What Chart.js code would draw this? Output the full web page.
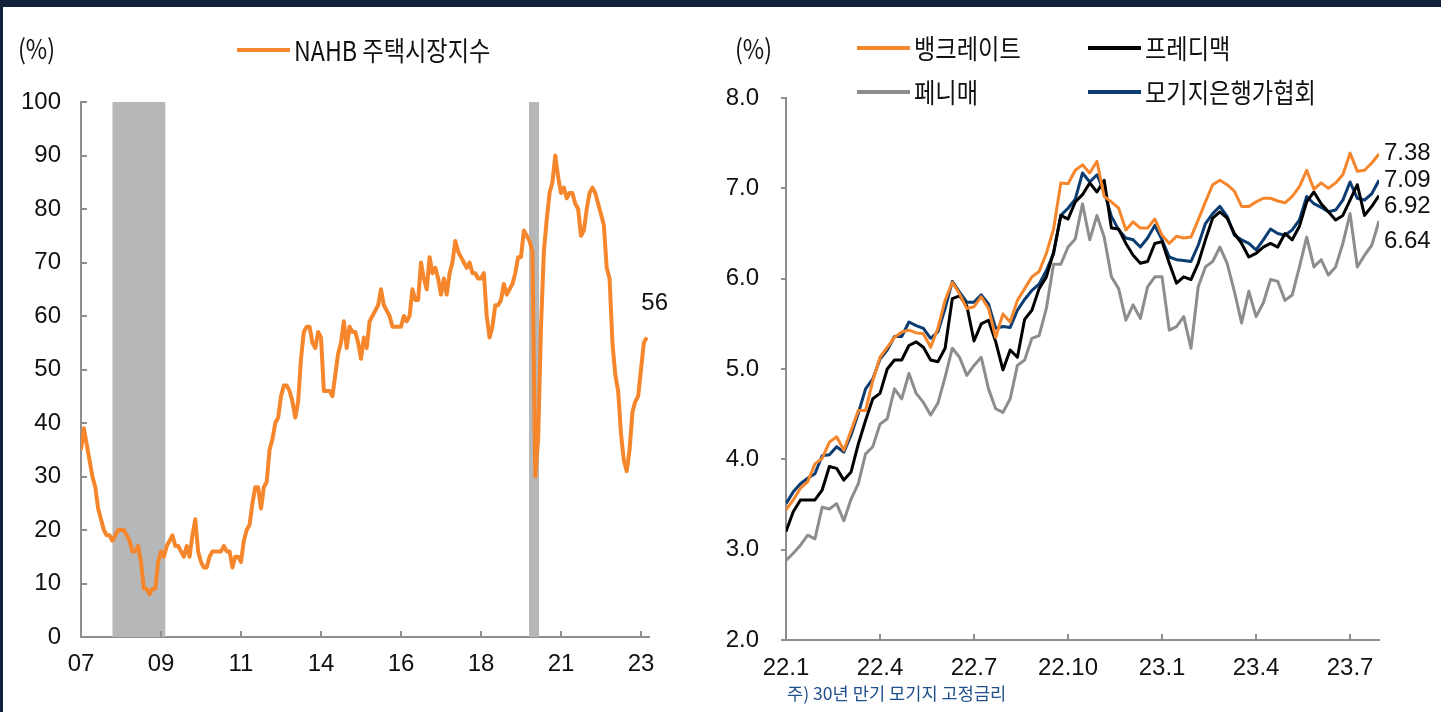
<!DOCTYPE html>
<html><head><meta charset="utf-8">
<script src="https://cdn.jsdelivr.net/npm/chart.js@4.4.0/dist/chart.umd.min.js"></script>
<style>
html,body{margin:0;padding:0;background:#fff;}
body{width:1441px;height:712px;position:relative;overflow:hidden;font-family:"Noto Sans CJK KR","Noto Sans",sans-serif;}
#topband{position:absolute;left:0;top:0;width:1441px;height:7px;background:#13203a;}
#leftband{position:absolute;left:0;top:0;width:3px;height:712px;background:#13203a;}
canvas{position:absolute;top:0;}
#c1{left:0;}
#c2{left:720px;}
.t{position:absolute;white-space:nowrap;color:#111;line-height:30px;height:30px;transform-origin:0 50%;}
.ln{position:absolute;height:4px;}
#note{position:absolute;left:787px;top:682px;font-size:17.6px;line-height:22px;color:#1f4f8c;white-space:nowrap;}
</style></head>
<body>
<div id="topband"></div><div id="leftband"></div>
<canvas id="c1" width="720" height="712"></canvas>
<canvas id="c2" width="721" height="712"></canvas>
<div id="note">주) 30년 만기 모기지 고정금리</div>
<script>
// ---------- Left chart data: NAHB housing market index, monthly 2007.01 - 2023.07 ----------
const nahbName = 'NAHB 주택시장지수';
const nahb = [
 35,39,36,33,30,28,24,22,20,19,19,18,
 19,20,20,20,19,18,16,16,17,14,9,9,
 8,9,9,14,16,15,17,18,19,17,17,16,
 15,17,15,19,22,16,14,13,13,15,16,16,
 16,16,17,16,16,13,15,15,14,18,20,21,
 25,28,28,24,28,29,35,37,40,41,45,47,
 47,46,44,41,44,52,57,58,58,55,54,57,
 56,46,46,46,45,49,53,55,59,54,58,57,
 57,55,52,56,54,59,60,61,62,65,62,61,
 60,58,58,58,58,60,59,60,65,63,63,70,
 67,65,71,68,69,67,64,67,64,68,70,74,
 72,71,70,69,70,68,68,67,67,68,60,56,
 58,62,62,63,66,64,65,66,68,71,71,76,
 75,74,72,30,37,58,72,78,83,85,90,86,
 83,84,82,83,83,81,80,75,76,80,83,84,
 83,81,79,77,69,67,55,49,46,38,33,31,
 35,42,44,45,50,55,56];
const nahbTickIdx = [0,28,56,84,112,140,168,196];
const nahbTickLabels = ['07','09','11','14','16','18','21','23'];
const recessions = [[11,29.5],[156.8,160.3]]; // month index ranges (2007.12-2009.06, 2020.02-2020.04)

// ---------- Right chart data: 30y fixed mortgage rates, weekly 2022.01 - 2023.08 ----------
const rateNames = ['뱅크레이트','프레디맥','페니매','모기지은행가협회'];
const bankrate = [3.44,3.55,3.68,3.75,3.95,4.01,4.19,4.25,4.10,4.32,4.54,4.54,4.87,5.13,5.24,5.35,5.41,5.43,5.40,5.39,
 5.24,5.45,5.76,5.96,5.83,5.67,5.69,5.80,5.67,5.35,5.61,5.52,5.76,5.89,6.02,6.08,6.28,6.55,7.06,7.05,
 7.20,7.26,7.17,7.30,6.91,6.85,6.78,6.54,6.63,6.56,6.56,6.66,6.48,6.39,6.47,6.45,6.46,6.65,6.85,7.04,
 7.09,7.04,6.97,6.80,6.80,6.85,6.89,6.89,6.86,6.84,6.91,7.02,7.20,6.99,7.06,7.00,7.06,7.15,7.39,7.19,
 7.20,7.28,7.38];
const freddie = [3.20,3.42,3.55,3.55,3.55,3.66,3.92,3.90,3.77,3.86,4.17,4.43,4.67,4.73,5.00,5.10,5.10,5.26,5.30,5.24,
 5.10,5.08,5.23,5.78,5.81,5.70,5.31,5.50,5.54,5.30,4.99,5.21,5.13,5.55,5.65,5.89,6.02,6.29,6.70,6.66,
 6.85,6.93,7.06,6.96,7.09,6.56,6.55,6.39,6.26,6.17,6.19,6.39,6.41,6.17,5.95,6.02,5.99,6.17,6.43,6.67,
 6.74,6.67,6.50,6.39,6.24,6.28,6.35,6.39,6.35,6.50,6.43,6.58,6.85,6.96,6.83,6.74,6.65,6.70,6.87,7.04,
 6.70,6.80,6.92];
const fannie = [2.88,2.96,3.05,3.16,3.12,3.47,3.45,3.51,3.32,3.56,3.73,4.06,4.14,4.39,4.45,4.78,4.67,4.95,4.73,4.63,
 4.49,4.62,4.91,5.23,5.13,4.93,5.04,5.13,4.78,4.56,4.52,4.67,5.04,5.10,5.34,5.37,5.67,6.16,6.16,6.35,
 6.44,6.83,6.43,6.70,6.46,6.02,5.89,5.54,5.71,5.56,5.91,6.02,6.02,5.43,5.47,5.58,5.23,5.91,6.13,6.19,
 6.35,6.17,5.86,5.51,5.86,5.58,5.73,5.99,5.97,5.76,5.82,6.13,6.46,6.13,6.21,6.04,6.13,6.39,6.72,6.13,
 6.26,6.37,6.64];
const mba = [3.51,3.64,3.73,3.79,3.84,4.04,4.05,4.14,4.08,4.27,4.51,4.78,4.89,5.11,5.21,5.36,5.36,5.52,5.48,5.45,
 5.34,5.41,5.67,5.97,5.85,5.74,5.74,5.82,5.72,5.45,5.47,5.46,5.65,5.77,5.87,5.94,6.09,6.28,6.70,6.78,
 6.88,7.17,7.07,7.15,6.96,6.69,6.54,6.45,6.43,6.35,6.45,6.59,6.43,6.24,6.21,6.20,6.19,6.37,6.61,6.72,
 6.80,6.69,6.48,6.43,6.39,6.32,6.43,6.55,6.50,6.48,6.54,6.65,6.91,6.83,6.79,6.74,6.76,6.87,7.07,6.89,
 6.87,6.94,7.09];
const rateTickIdx = [0,13,26,39,52,65,78];
const rateTickLabels = ['22.1','22.4','22.7','22.10','23.1','23.4','23.7'];

// ---------- styles ----------
const ORANGE = '#f5862b', BLACK = '#000000', GRAY = '#8b8d8f', NAVY = '#0b3c72', AXIS = '#8e8e8e', SHADE = '#b6b7b9';
const TICKFONT = {family:'"Liberation Sans", Arial, sans-serif', size:24};

const toXY = arr => arr.map((v,i)=>({x:i,y:v}));

const shadePlugin = {
  id:'shade',
  beforeDatasetsDraw(chart, args, opts){
    if(!opts.ranges) return;
    const {ctx, scales:{x,y}} = chart;
    ctx.save(); ctx.fillStyle = opts.color;
    opts.ranges.forEach(([a,b])=>{
      const x1 = x.getPixelForValue(a), x2 = x.getPixelForValue(b);
      const y1 = y.getPixelForValue(y.max), y2 = y.getPixelForValue(y.min);
      ctx.fillRect(x1, y1, x2-x1, y2-y1);
    });
    ctx.restore();
  }
};
const tickPlugin = {
  id:'tickMarks',
  afterDraw(chart, args, opts){
    if(!opts.axes) return;
    const ctx = chart.ctx;
    ctx.save(); ctx.strokeStyle = opts.color; ctx.lineWidth = opts.width;
    opts.axes.forEach(a=>{
      const sc = chart.scales[a.id];
      sc.ticks.forEach(t=>{
        const p = Math.round(sc.getPixelForValue(t.value));
        ctx.beginPath();
        if(sc.isHorizontal()){ const yy = sc.top; ctx.moveTo(p, yy); ctx.lineTo(p, yy - a.len); }
        else { const xx = sc.right; ctx.moveTo(xx, p); ctx.lineTo(xx + a.len, p); }
        ctx.stroke();
      });
    });
    ctx.restore();
  }
};
const endLabelPlugin = {
  id:'endLabels',
  afterDatasetsDraw(chart, args, opts){
    if(!opts.items) return;
    const ctx = chart.ctx;
    ctx.save(); ctx.font = opts.font; ctx.fillStyle = opts.color; ctx.textBaseline = 'middle';
    opts.items.forEach(it=>{
      const meta = chart.getDatasetMeta(it.ds);
      const ds = chart.data.datasets[it.ds].data;
      const pt = meta.data[meta.data.length-1];
      const v = ds[ds.length-1].y;
      ctx.textAlign = it.align;
      ctx.fillText(it.digits ? v.toFixed(it.digits) : String(v), pt.x + it.dx, pt.y + it.dy);
    });
    ctx.restore();
  }
};
Chart.register(shadePlugin, tickPlugin, endLabelPlugin);

function lineDs(label, data, color, w){
  return {label, data: toXY(data), borderColor: color, backgroundColor: color, borderWidth: w,
          pointRadius: 0, tension: 0, borderJoinStyle: 'round', borderCapStyle: 'butt'};
}
const noGrid = {display:false, drawTicks:false, tickLength:0};

// ---------- Left chart ----------
new Chart(document.getElementById('c1'), {
  type:'line',
  data:{datasets:[lineDs(nahbName, nahb, ORANGE, 4)]},
  options:{
    responsive:false, animation:false, devicePixelRatio:1,
    layout:{padding:{top:102, right:71, left:0, bottom:0}},
    plugins:{
      legend:{display:false}, tooltip:{enabled:false},
      shade:{ranges:recessions, color:SHADE},
      tickMarks:{color:AXIS, width:2, axes:[{id:'x', len:6},{id:'y', len:6}]},
      endLabels:{font:'24px "Liberation Sans", Arial, sans-serif', color:'#111', items:[{ds:0, dx:8, dy:-34, align:'center'}]}
    },
    scales:{
      x:{type:'linear', min:0, max:198.8,
         afterBuildTicks: s => { s.ticks = nahbTickIdx.map(v=>({value:v})); },
         afterFit: s => { s.height = 75; },
         grid:noGrid, border:{display:true, color:AXIS, width:2},
         ticks:{autoSkip:false, maxRotation:0, padding:13, color:'#111', font:TICKFONT,
                callback:(v,i)=>nahbTickLabels[i]}},
      y:{min:0, max:100,
         afterFit: s => { s.width = 81; },
         grid:noGrid, border:{display:true, color:AXIS, width:2},
         ticks:{stepSize:10, padding:20, color:'#111', font:TICKFONT}}
    }
  }
});

// ---------- Right chart ----------
const rateColors = [ORANGE, BLACK, GRAY, NAVY];
new Chart(document.getElementById('c2'), {
  type:'line',
  data:{datasets:[
    lineDs(rateNames[2], fannie, GRAY, 3),
    lineDs(rateNames[0], bankrate, ORANGE, 3),
    lineDs(rateNames[1], freddie, BLACK, 3),
    lineDs(rateNames[3], mba, NAVY, 3)
  ]},
  options:{
    responsive:false, animation:false, devicePixelRatio:1,
    layout:{padding:{top:98, right:62, left:0, bottom:0}},
    plugins:{
      legend:{display:false}, tooltip:{enabled:false},
      tickMarks:{color:AXIS, width:2, axes:[{id:'x', len:6},{id:'y', len:-5}]},
      endLabels:{font:'24px "Liberation Sans", Arial, sans-serif', color:'#111', items:[
        {ds:1, dx:5, dy:-1, align:'left', digits:2},
        {ds:3, dx:5, dy:0, align:'left', digits:2},
        {ds:2, dx:5, dy:11, align:'left', digits:2},
        {ds:0, dx:5, dy:21, align:'left', digits:2}
      ]}
    },
    scales:{
      x:{type:'linear', min:0, max:82,
         afterBuildTicks: s => { s.ticks = rateTickIdx.map(v=>({value:v})); },
         afterFit: s => { s.height = 72; },
         grid:noGrid, border:{display:true, color:AXIS, width:2},
         ticks:{autoSkip:false, maxRotation:0, padding:14, color:'#111', font:TICKFONT,
                callback:(v,i)=>rateTickLabels[i]}},
      y:{min:2, max:8,
         afterFit: s => { s.width = 66; },
         grid:noGrid, border:{display:true, color:AXIS, width:2},
         ticks:{stepSize:1, padding:27, color:'#111', font:TICKFONT, callback:v=>Number(v).toFixed(1)}}
    }
  }
});

// ---------- HTML legends and unit labels ----------
function addText(txt, x, yc, size, scale){
  const d = document.createElement('div');
  d.className = 't'; d.textContent = txt;
  d.style.left = x+'px'; d.style.top = (yc-15)+'px'; d.style.fontSize = size+'px';
  d.style.transform = 'scaleX('+scale+')';
  document.body.appendChild(d);
}
function addLegendItem(color, name, x, yc){
  const l = document.createElement('div');
  l.className = 'ln'; l.style.left = x+'px'; l.style.top = (yc-2)+'px'; l.style.width = '53px'; l.style.background = color;
  document.body.appendChild(l);
  addText(name, x+57, yc, 27, 0.86);
}
addText('(%)', 18, 48, 27, 0.86);
addText('(%)', 735, 48, 27, 0.86);
addLegendItem(ORANGE, nahbName, 237, 50);
const legPos = [[857,48],[1088,48],[857,92],[1088,92]];
rateNames.forEach((n,i)=>addLegendItem(rateColors[i], n, legPos[i][0], legPos[i][1]));
</script>
</body></html>
